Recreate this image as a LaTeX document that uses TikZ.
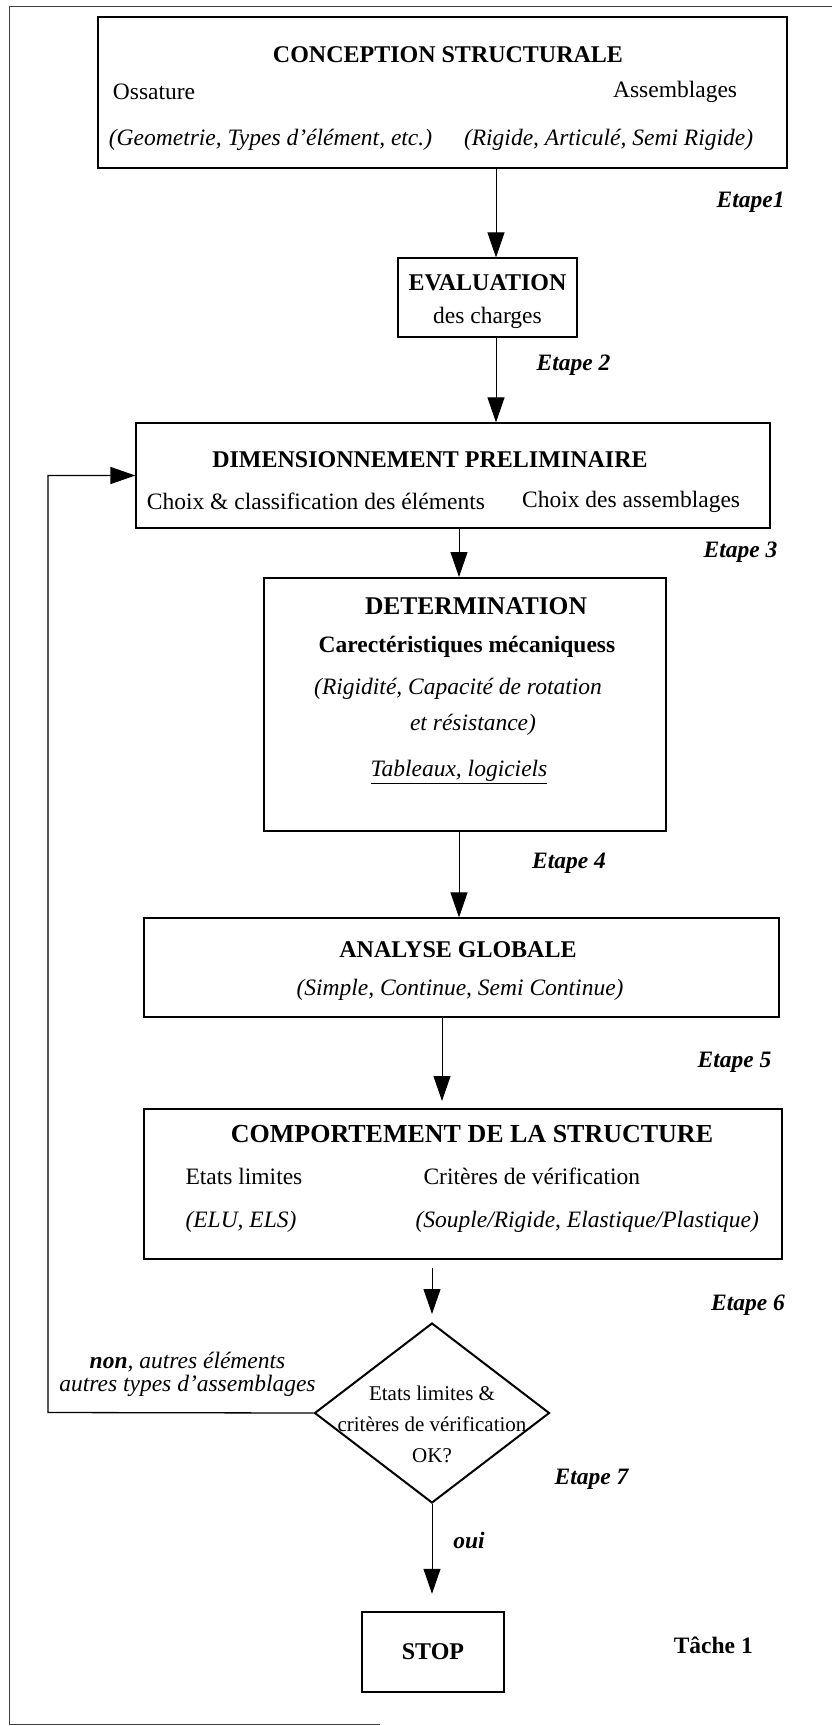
\documentclass[tikz,border=0pt]{standalone}
\usepackage{fontspec}
\setmainfont{Liberation Serif}
\usetikzlibrary{arrows.meta,shapes.geometric}

\tikzset{
  box/.style={draw, line width=1.2pt, inner sep=0pt},
  grosbox/.style={box, line width=2pt},
  texte/.style={inner sep=0pt, font=\fontsize{23.5}{28}\selectfont},
  titre/.style={inner sep=0pt, font=\fontsize{24}{28}\selectfont\bfseries},
  etape/.style={inner sep=0pt, font=\fontsize{23.5}{28}\selectfont\bfseries\itshape},
  decision/.style={diamond, draw, line width=2pt, inner sep=0pt,
    minimum width=235pt, minimum height=180pt},
  cadre/.style={line width=1pt, black!75},
}

\begin{document}
\begin{tikzpicture}[x=1pt,y=-1pt,>={Triangle[length=25pt,width=17pt]},line width=1pt]
\useasboundingbox (0,0) rectangle (832,1726);
\draw[cadre] (380,1724) -- (9.5,1724) -- (9.5,7) -- (832,7);
%
\node[box, minimum width=689pt, minimum height=151pt] (concep) at (442.5,92.5) {};
\draw (concep.north) ++ (5.5,38) node[titre] (concepTitre) {CONCEPTION STRUCTURALE};
\draw (concep.north west) ++ (15,75) node[texte,anchor=west] (ossature) {Ossature};
\draw (concep.north west) ++ (11,123) node[texte,anchor=west] (ossatureDet)
  {\itshape (Geometrie, Types d'élément, etc.)};
\draw (concep.north east) ++ (-50,75) node[texte,anchor=east] (assemb) {Assemblages};
\draw (concep.north east) ++ (-34,123) node[texte,anchor=east] (assembDet)
  {\itshape (Rigide, Articulé, Semi Rigide)};
\draw (concep.south east) ++ (-37,34) node[etape] (etape1) {Etape1};
%
\node[box, minimum width=179pt, minimum height=79pt] (eval) at (487.5,297.5) {};
\draw (eval.north) ++ (0,25) node[titre] (evalTitre) {EVALUATION};
\draw (eval.north) ++ (0,60) node[texte] (evalDet) {des charges};
\path[draw,->] ([xshift=8.5pt]eval.north |- concep.south) -- ([xshift=8.5pt]eval.north);
\draw (eval.south east) ++ (-4,28) node[etape] (etape2) {Etape 2};
%
\node[box, minimum width=634pt, minimum height=105pt] (dim) at (453,475.5) {};
\draw (dim.north) ++ (-23,37) node[titre] (dimTitre) {DIMENSIONNEMENT PRELIMINAIRE};
\draw (dim.north west) ++ (11,79) node[texte,anchor=west] (dimElem)
  {Choix \& classification des éléments};
\draw (dim.north east) ++ (-30,79) node[texte,anchor=east] (dimAssemb)
  {Choix des assemblages};
\path[draw,->] ([xshift=8.5pt]eval.south) -- ([xshift=8.5pt]eval.south |- dim.north);
\draw (dim.south east) ++ (-30,24) node[etape] (etape3) {Etape 3};
%
\node[grosbox, minimum width=402pt, minimum height=253pt] (determ) at (465,704.5) {};
\draw (determ.north) ++ (11,29) node[titre,font=\fontsize{25.5}{28}\selectfont\bfseries]
  (determTitre) {DETERMINATION};
\draw (determ.north) ++ (2,70) node[titre,font=\fontsize{23.5}{28}\selectfont\bfseries]
  (determCarac) {Carectéristiques mécaniquess};
\draw (determ.north) ++ (-7,112) node[texte] (determRig)
  {\itshape (Rigidité, Capacité de rotation};
\draw (determ.north) ++ (8,148) node[texte] (determRes) {\itshape et résistance)};
\draw (determ.north) ++ (-6,195) node[texte] (determTab)
  {\underline{\textit{Tableaux, logiciels}}};
\path[draw,->] ([xshift=-6pt]determ.north |- dim.south) -- ([xshift=-6pt]determ.north);
\draw (determ.south) ++ (104,31) node[etape] (etape4) {Etape 4};
%
\node[box, minimum width=635pt, minimum height=99pt] (analyse) at (461.5,967.5) {};
\draw (analyse.north) ++ (-3.5,32) node[titre] (analyseTitre) {ANALYSE GLOBALE};
\draw (analyse.north) ++ (-1.5,72) node[texte] (analyseDet)
  {\itshape (Simple, Continue, Semi Continue)};
\path[draw,->] ([xshift=-6pt]determ.south) -- ([xshift=-6pt]determ.south |- analyse.north);
\draw (analyse.south east) ++ (-45,45) node[etape] (etape5) {Etape 5};
%
\node[grosbox, minimum width=638pt, minimum height=150pt] (comport) at (463,1184) {};
\draw (comport.north) ++ (9,26) node[titre,font=\fontsize{26}{28}\selectfont\bfseries]
  (comportTitre) {COMPORTEMENT DE LA STRUCTURE};
\draw (comport.north west) ++ (42,68) node[texte,anchor=west] (etats) {Etats limites};
\draw (comport.north west) ++ (42,114) node[texte,anchor=west] (etatsDet)
  {\itshape (ELU, ELS)};
\draw (comport.north west) ++ (280,68) node[texte,anchor=west] (criteres)
  {Critères de vérification};
\draw (comport.north west) ++ (272,114) node[texte,anchor=west] (criteresDet)
  {\itshape (Souple/Rigide, Elastique/Plastique)};
\path[draw,->,shorten >=7pt] ([xshift=-19.5pt]analyse.south)
  -- ([xshift=-19.5pt]analyse.south |- comport.north);
\draw (comport.south east) ++ (-35,45) node[etape] (etape6) {Etape 6};
%
\node[decision] (test) at (432,1413) {};
\draw (test) ++ (0,11) node[texte,font=\fontsize{21}{31}\selectfont,align=center]
  (testTexte) {Etats limites \&\\critères de vérification\\OK?};
\path[draw,->,shorten <=8pt,shorten >=8pt] (test.north |- comport.south) -- (test.north);
\draw (test.east) ++ (41,66) node[etape] (etape7) {Etape 7};
%
\coordinate (retour) at (48,1412.5);
\path[draw,->,line width=1.3pt] (test.west) -- (retour) |- (dim.west);
\draw (test.west) ++ (-126,-39) node[texte,font=\fontsize{23.5}{23}\selectfont\itshape,align=center]
  (non) {\textbf{non}, autres éléments\\autres types d'assemblages};
%
\node[grosbox, line width=2.5pt, minimum width=142pt, minimum height=80pt] (stop) at (433,1652) {};
\draw (stop) node[titre] (stopTexte) {STOP};
\path[draw,->,shorten >=17pt] (test.south) -- (test.south |- stop.north);
\draw (test.south) ++ (37,36) node[etape] (oui) {oui};
\draw (stop.east) ++ (208,-7) node[titre,font=\fontsize{23.5}{28}\selectfont\bfseries]
  (tache) {Tâche 1};
\end{tikzpicture}
\end{document}
